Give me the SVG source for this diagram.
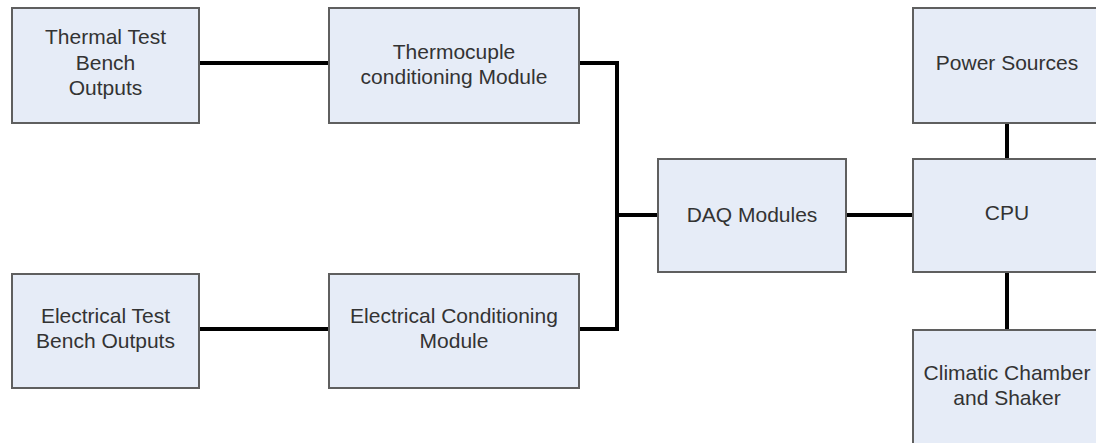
<svg xmlns="http://www.w3.org/2000/svg" width="1096" height="443" viewBox="0 0 1096 443">
<defs>
<style>
.box{fill:#e6ecf7;stroke:#5f5f5f;stroke-width:2}
.shadow{fill:none;stroke:#c4c4c4;stroke-width:1.5}
.lbl{font-family:"Liberation Sans",Arial,sans-serif;font-size:21px;fill:#333333;text-anchor:middle}
.conn{fill:none;stroke:#000000;stroke-width:4;stroke-linejoin:miter}
</style>
</defs>
<rect width="1096" height="443" fill="#ffffff"/>
<g id="connectors">
<line class="conn" x1="199" y1="63" x2="329" y2="63"/>
<polyline class="conn" points="579,63 617,63 617,329 579,329"/>
<line class="conn" x1="617" y1="215" x2="658" y2="215"/>
<line class="conn" x1="199" y1="329" x2="329" y2="329"/>
<line class="conn" x1="846" y1="215" x2="913" y2="215"/>
<line class="conn" x1="1007" y1="123" x2="1007" y2="159"/>
<line class="conn" x1="1007" y1="272" x2="1007" y2="330"/>
</g>
<g id="thermal">
<rect class="box" x="12" y="8" width="187" height="115"/>
<text class="lbl" x="105.5" y="44">Thermal Test</text>
<text class="lbl" x="105.5" y="70">Bench</text>
<text class="lbl" x="105.5" y="95">Outputs</text>
</g>
<g id="thermocouple">
<rect class="box" x="329" y="8" width="250" height="115"/>
<text class="lbl" x="454" y="59">Thermocuple</text>
<text class="lbl" x="454" y="84">conditioning Module</text>
</g>
<g id="electrical">
<rect class="box" x="12" y="274" width="187" height="114"/>
<text class="lbl" x="105.5" y="323">Electrical Test</text>
<text class="lbl" x="105.5" y="348">Bench Outputs</text>
</g>
<g id="electrical-conditioning">
<rect class="box" x="329" y="274" width="250" height="114"/>
<text class="lbl" x="454" y="323">Electrical Conditioning</text>
<text class="lbl" x="454" y="348">Module</text>
</g>
<g id="daq">
<rect class="box" x="658" y="159" width="188" height="113"/>
<text class="lbl" x="752" y="222">DAQ Modules</text>
</g>
<g id="power">
<rect class="box" x="913" y="8" width="188" height="115"/>
<text class="lbl" x="1007" y="70">Power Sources</text>
</g>
<g id="cpu">
<rect class="box" x="913" y="159" width="188" height="113"/>
<text class="lbl" x="1007" y="220">CPU</text>
</g>
<g id="climatic">
<rect class="box" x="913" y="330" width="188" height="120"/>
<text class="lbl" x="1007" y="380">Climatic Chamber</text>
<text class="lbl" x="1007" y="405">and Shaker</text>
</g>
</svg>
